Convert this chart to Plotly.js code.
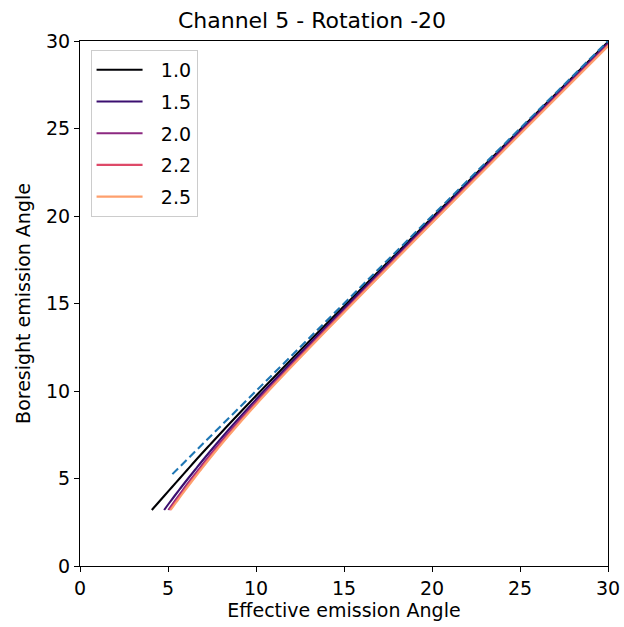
<!DOCTYPE html>
<html>
<head>
<meta charset="utf-8">
<script src="https://cdn.plot.ly/plotly-3.0.1.min.js"></script>
<style>html,body{margin:0;padding:0;background:#fff;}#chart{width:624px;height:627px;}</style>
</head>
<body>
<div id="chart"></div>
<script>
// Boresight emission angle (y) shared by all series
const boresight = [3.2, 3.6, 4, 4.5, 5, 5.5, 6, 7, 8, 9, 10, 12, 14, 16, 18, 20, 23, 26, 30];
// Effective emission angle (x) per series
const eff_1_0 = [4.08, 4.43, 4.78, 5.22, 5.66, 6.1, 6.54, 7.45, 8.37, 9.31, 10.26, 12.2, 14.16, 16.14, 18.12, 20.1, 23.08, 26.06, 30.05];
const eff_1_5 = [4.78, 5.07, 5.37, 5.75, 6.14, 6.54, 6.94, 7.77, 8.63, 9.53, 10.45, 12.36, 14.3, 16.26, 18.22, 20.2, 23.17, 26.14, 30.12];
const eff_2_0 = [5.02, 5.3, 5.59, 5.96, 6.34, 6.73, 7.12, 7.93, 8.78, 9.67, 10.59, 12.49, 14.43, 16.38, 18.34, 20.3, 23.26, 26.23, 30.2];
const eff_2_2 = [5.1, 5.38, 5.67, 6.04, 6.42, 6.81, 7.2, 8.01, 8.86, 9.75, 10.66, 12.55, 14.48, 16.43, 18.39, 20.35, 23.31, 26.28, 30.25];
const eff_2_5 = [5.15, 5.44, 5.73, 6.1, 6.48, 6.87, 7.26, 8.07, 8.92, 9.8, 10.71, 12.6, 14.53, 16.47, 18.43, 20.39, 23.35, 26.32, 30.3];
const seriesNames = ["1.0", "1.5", "2.0", "2.2", "2.5"];
const seriesColors = ["#000004", "#3b0f70", "#8c2981", "#de4968", "#fe9f6d"];
// identity reference line
const refX = [5.25, 30];
const refY = [5.25, 30];

const effs = [eff_1_0, eff_1_5, eff_2_0, eff_2_2, eff_2_5];
const traces = effs.map((xs, i) => ({
  x: xs, y: boresight, type: 'scatter', mode: 'lines',
  name: '\u2002\u2009' + seriesNames[i],
  legendgroup: 'g' + i,
  line: {color: seriesColors[i], width: 2.1, shape: 'spline', smoothing: 1}
}));
traces.push({
  x: refX, y: refY, type: 'scatter', mode: 'lines', showlegend: false,
  line: {color: '#1f77b4', width: 2.1, dash: '8px,4px'}
});

const font = {family: 'DejaVu Sans, sans-serif', color: '#000'};
const layout = {
  width: 624, height: 627,
  margin: {l: 80, r: 16, t: 41, b: 61},
  paper_bgcolor: '#fff', plot_bgcolor: '#fff',
  font: Object.assign({size: 19}, font),
  title: {text: 'Channel 5 - Rotation -20', font: Object.assign({size: 22}, font),
          x: 0.5, xanchor: 'center', y: 1 - 20/627, yanchor: 'middle', yref: 'container'},
  xaxis: {
    range: [0, 30], dtick: 5, tick0: 0, showgrid: false, zeroline: false,
    showline: true, linecolor: '#000', linewidth: 1, mirror: true,
    ticks: 'outside', ticklen: 5, tickwidth: 1, tickcolor: '#000',
    tickfont: Object.assign({size: 19}, font),
    title: {text: 'Effective emission Angle', font: Object.assign({size: 19}, font), standoff: 5}
  },
  yaxis: {
    range: [0, 30], dtick: 5, tick0: 0, showgrid: false, zeroline: false,
    showline: true, linecolor: '#000', linewidth: 1, mirror: true,
    ticks: 'outside', ticklen: 5, tickwidth: 1, tickcolor: '#000',
    tickfont: Object.assign({size: 19}, font),
    title: {text: 'Boresight emission Angle', font: Object.assign({size: 19}, font), standoff: 10}
  },
  showlegend: true,
  legend: {
    x: 0.02, y: 0.983, xanchor: 'left', yanchor: 'top',
    bgcolor: 'rgba(255,255,255,0.8)', bordercolor: '#cccccc', borderwidth: 1,
    font: Object.assign({size: 19}, font), traceorder: 'grouped', tracegroupgap: 4, itemwidth: 46
  }
};
Plotly.newPlot('chart', traces, layout, {displayModeBar: false, staticPlot: true});
</script>
</body>
</html>
